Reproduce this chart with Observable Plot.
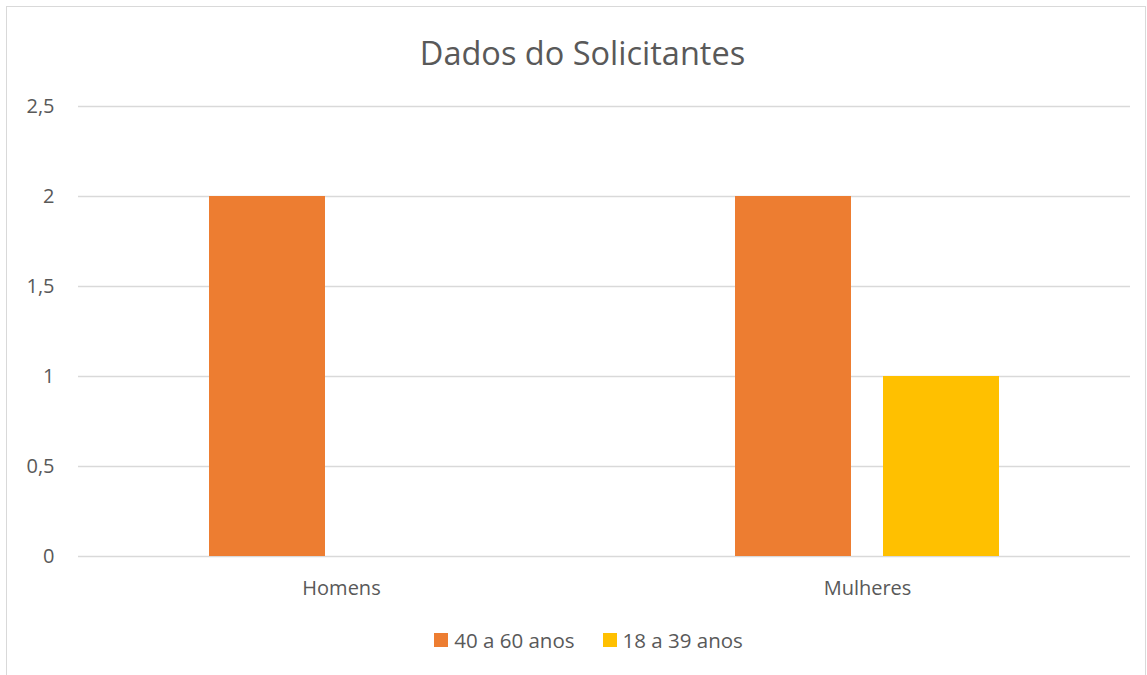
<!DOCTYPE html>
<html>
<head>
<meta charset="utf-8">
<script src="https://cdn.jsdelivr.net/npm/d3@7"></script>
<script src="https://cdn.jsdelivr.net/npm/@observablehq/plot@0.6"></script>
<style>
  html, body { margin: 0; padding: 0; background: #fff; }
  #wrap { position: relative; width: 1147px; height: 675px; overflow: hidden; font-family: "Open Sans", sans-serif; color: #595959; }
  #frame { position: absolute; left: 6px; top: 6px; width: 1140px; height: 700px; border: 1px solid #d9d9d9; box-sizing: border-box; }
  #title { position: absolute; left: 9px; width: 1147px; top: 31px; text-align: center; font-size: 32.5px; line-height: 44px; }
  #chart { position: absolute; left: 0; top: 80px; }
  #legend { position: absolute; left: 15px; width: 1147px; top: 626px; display: flex; justify-content: center; gap: 28px; font-size: 20.5px; line-height: 28px; }
  .item { display: flex; align-items: center; gap: 6px; }
  .sw { width: 14px; height: 14px; display: inline-block; }
</style>
</head>
<body>
<div id="wrap">
  <div id="frame"></div>
  <div id="title">Dados do Solicitantes</div>
  <div id="chart"></div>
  <div id="legend"></div>
</div>
<script>
const categories = ["Homens", "Mulheres"];
const series = ["40 a 60 anos", "18 a 39 anos"];
const values40a60 = [2, 2];
const values18a39 = [0, 1];
const colors = ["#ED7D31", "#FFC000"];
const yTicks = [0, 0.5, 1, 1.5, 2, 2.5];

const data = [];
categories.forEach((c, i) => {
  data.push({category: c, series: series[0], value: values40a60[i]});
  data.push({category: c, series: series[1], value: values18a39[i]});
});

const plot = Plot.plot({
  width: 1147,
  height: 526,
  marginTop: 26,
  marginBottom: 50,
  marginLeft: 77,
  marginRight: 17,
  style: {fontFamily: "Open Sans, sans-serif", fontSize: "20px", color: "#595959", background: "transparent"},
  fx: {domain: categories, padding: 0, label: null},
  x: {domain: series, axis: null, paddingInner: 0.215, paddingOuter: 0.874},
  y: {domain: [0, 2.5], label: null, axis: null},
  color: {domain: series, range: colors},
  marks: [
    Plot.gridY(yTicks, {stroke: "#d9d9d9", strokeOpacity: 1, strokeWidth: 1.3}),
    Plot.axisY(yTicks, {tickSize: 0, tickPadding: 24, label: null, fontSize: 20, tickFormat: d => String(d).replace(".", ",")}),
    Plot.axisFx({anchor: "bottom", tickSize: 0, tickPadding: 24, label: null, fontSize: 20}),
    Plot.barY(data.filter(d => d.value > 0), {fx: "category", x: "series", y: "value", fill: "series"})
  ]
});
document.getElementById("chart").appendChild(plot);

const legend = document.getElementById("legend");
series.forEach((s, i) => {
  const item = document.createElement("div");
  item.className = "item";
  const sw = document.createElement("span");
  sw.className = "sw";
  sw.style.background = colors[i];
  const t = document.createElement("span");
  t.textContent = s;
  item.appendChild(sw);
  item.appendChild(t);
  legend.appendChild(item);
});
</script>
</body>
</html>
